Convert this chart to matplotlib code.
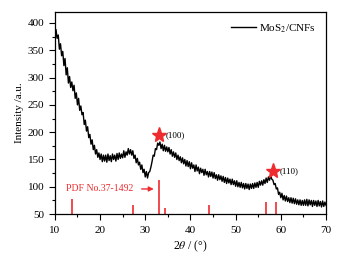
import numpy as np
import matplotlib
matplotlib.use("Agg")
import matplotlib.pyplot as plt
from matplotlib.ticker import MultipleLocator

plt.rcParams['font.family'] = ['Liberation Serif', 'DejaVu Serif']
plt.rcParams['mathtext.fontset'] = 'stix'

# XRD pattern, 2theta from 10 to 70 in 0.25 deg steps
two_theta = np.arange(10, 70.01, 0.25)
intensity = [
    362, 388, 372, 378,  352, 362, 340, 348,  322, 335, 305, 318,
    290, 302, 282, 292,  276, 286, 262, 272,  250, 262, 240, 248,
    232, 236, 214, 222,  202, 210, 190, 196,  178, 186, 168, 176,
    160, 168, 154, 162,  150, 160, 146, 158,  147, 158, 145, 160,
    148, 157, 146, 160,  150, 158, 147, 161,  150, 162, 152, 160,
    153, 166, 154, 164,  158, 170, 160, 168,  158, 166, 152, 158,
    144, 152, 140, 145,  132, 140, 126, 132,  118, 128, 116, 126,
    128, 136, 146, 158,  156, 170, 168, 180,  176, 182, 170, 178,
    166, 176, 165, 173,  164, 172, 160, 168,  156, 164, 154, 162,
    150, 158, 148, 155,  144, 153, 142, 150,  138, 148, 137, 146,
    133, 144, 134, 140,  128, 140, 129, 136,  124, 134, 126, 132,
    121, 132, 122, 128,  118, 128, 119, 127,  116, 126, 115, 122,
    112, 122, 113, 120,  110, 119, 108, 117,  106, 116, 107, 114,
    104, 114, 104, 111,  101, 111, 100, 108,  99, 108, 98, 106,
    96, 106, 97, 105,  95, 105, 97, 106,  97, 107, 99, 108,
    99, 110, 103, 111,  103, 113, 106, 116,  108, 118, 112, 120,
    114, 112, 104, 106,  96, 98, 86, 90,  80, 88, 76, 84,
    74, 83, 73, 80,  71, 80, 70, 79,  69, 78, 68, 76,
    67, 76, 66, 75,  66, 76, 66, 77,  65, 76, 67, 75,
    64, 75, 66, 74,  64, 75, 65, 73,  63, 74, 64, 72,
    66,
]

# PDF No.37-1492 reference lines
ref_pos = [13.7, 27.3, 33.1, 34.4, 44.2, 56.7, 59.0]
ref_int = [77, 66, 113, 61, 66, 72, 72]

# peak markers
peak_pos = [33.0, 58.2]
peak_int = [195, 128]
peak_labels = ['(100)', '(110)']

red = '#ee2b2f'

fig = plt.figure(figsize=(3.45, 2.57), dpi=100)
ax = fig.add_axes([0.159, 0.167, 0.786, 0.786])

ax.plot(two_theta, intensity, color='black', lw=1.0, label='MoS$_2$/CNFs')
ax.vlines(ref_pos, 50, ref_int, color=red, lw=1.2)
ax.plot(peak_pos, peak_int, ls='none', marker='*', ms=11, color=red, mec=red)
for p, i, lab in zip(peak_pos, peak_int, peak_labels):
    ax.text(p + 1.6, i, lab, fontsize=6.5, va='center', ha='left')

ax.text(20.0, 96, 'PDF No.37-1492', color=red, fontsize=7, ha='center', va='center')
ax.annotate('', xy=(32.5, 96), xytext=(28.6, 96),
            arrowprops=dict(arrowstyle='-|>', color=red, lw=1.0,
                            mutation_scale=7))

ax.set_xlim(10, 70)
ax.set_ylim(50, 420)
ax.xaxis.set_major_locator(MultipleLocator(10))
ax.xaxis.set_minor_locator(MultipleLocator(5))
ax.yaxis.set_major_locator(MultipleLocator(50))
ax.yaxis.set_minor_locator(MultipleLocator(25))
ax.set_yticks(np.arange(50, 401, 50))
ax.tick_params(which='major', direction='out', length=4.5, width=0.8, labelsize=8, pad=3)
ax.tick_params(axis='x', which='major', pad=4)
ax.tick_params(which='minor', direction='out', length=2.5, width=0.8)
for s in ax.spines.values():
    s.set_linewidth(0.9)

ax.set_xlabel(r'2$\theta$ / (°)', fontsize=8.5, labelpad=3)
ax.set_ylabel('Intensity /a.u.', fontsize=8, labelpad=3)

ax.legend(loc='upper right', frameon=False, fontsize=8, handlelength=2.2,
          handletextpad=0.3, borderaxespad=0.5)

fig.savefig('out.png', dpi=100)
